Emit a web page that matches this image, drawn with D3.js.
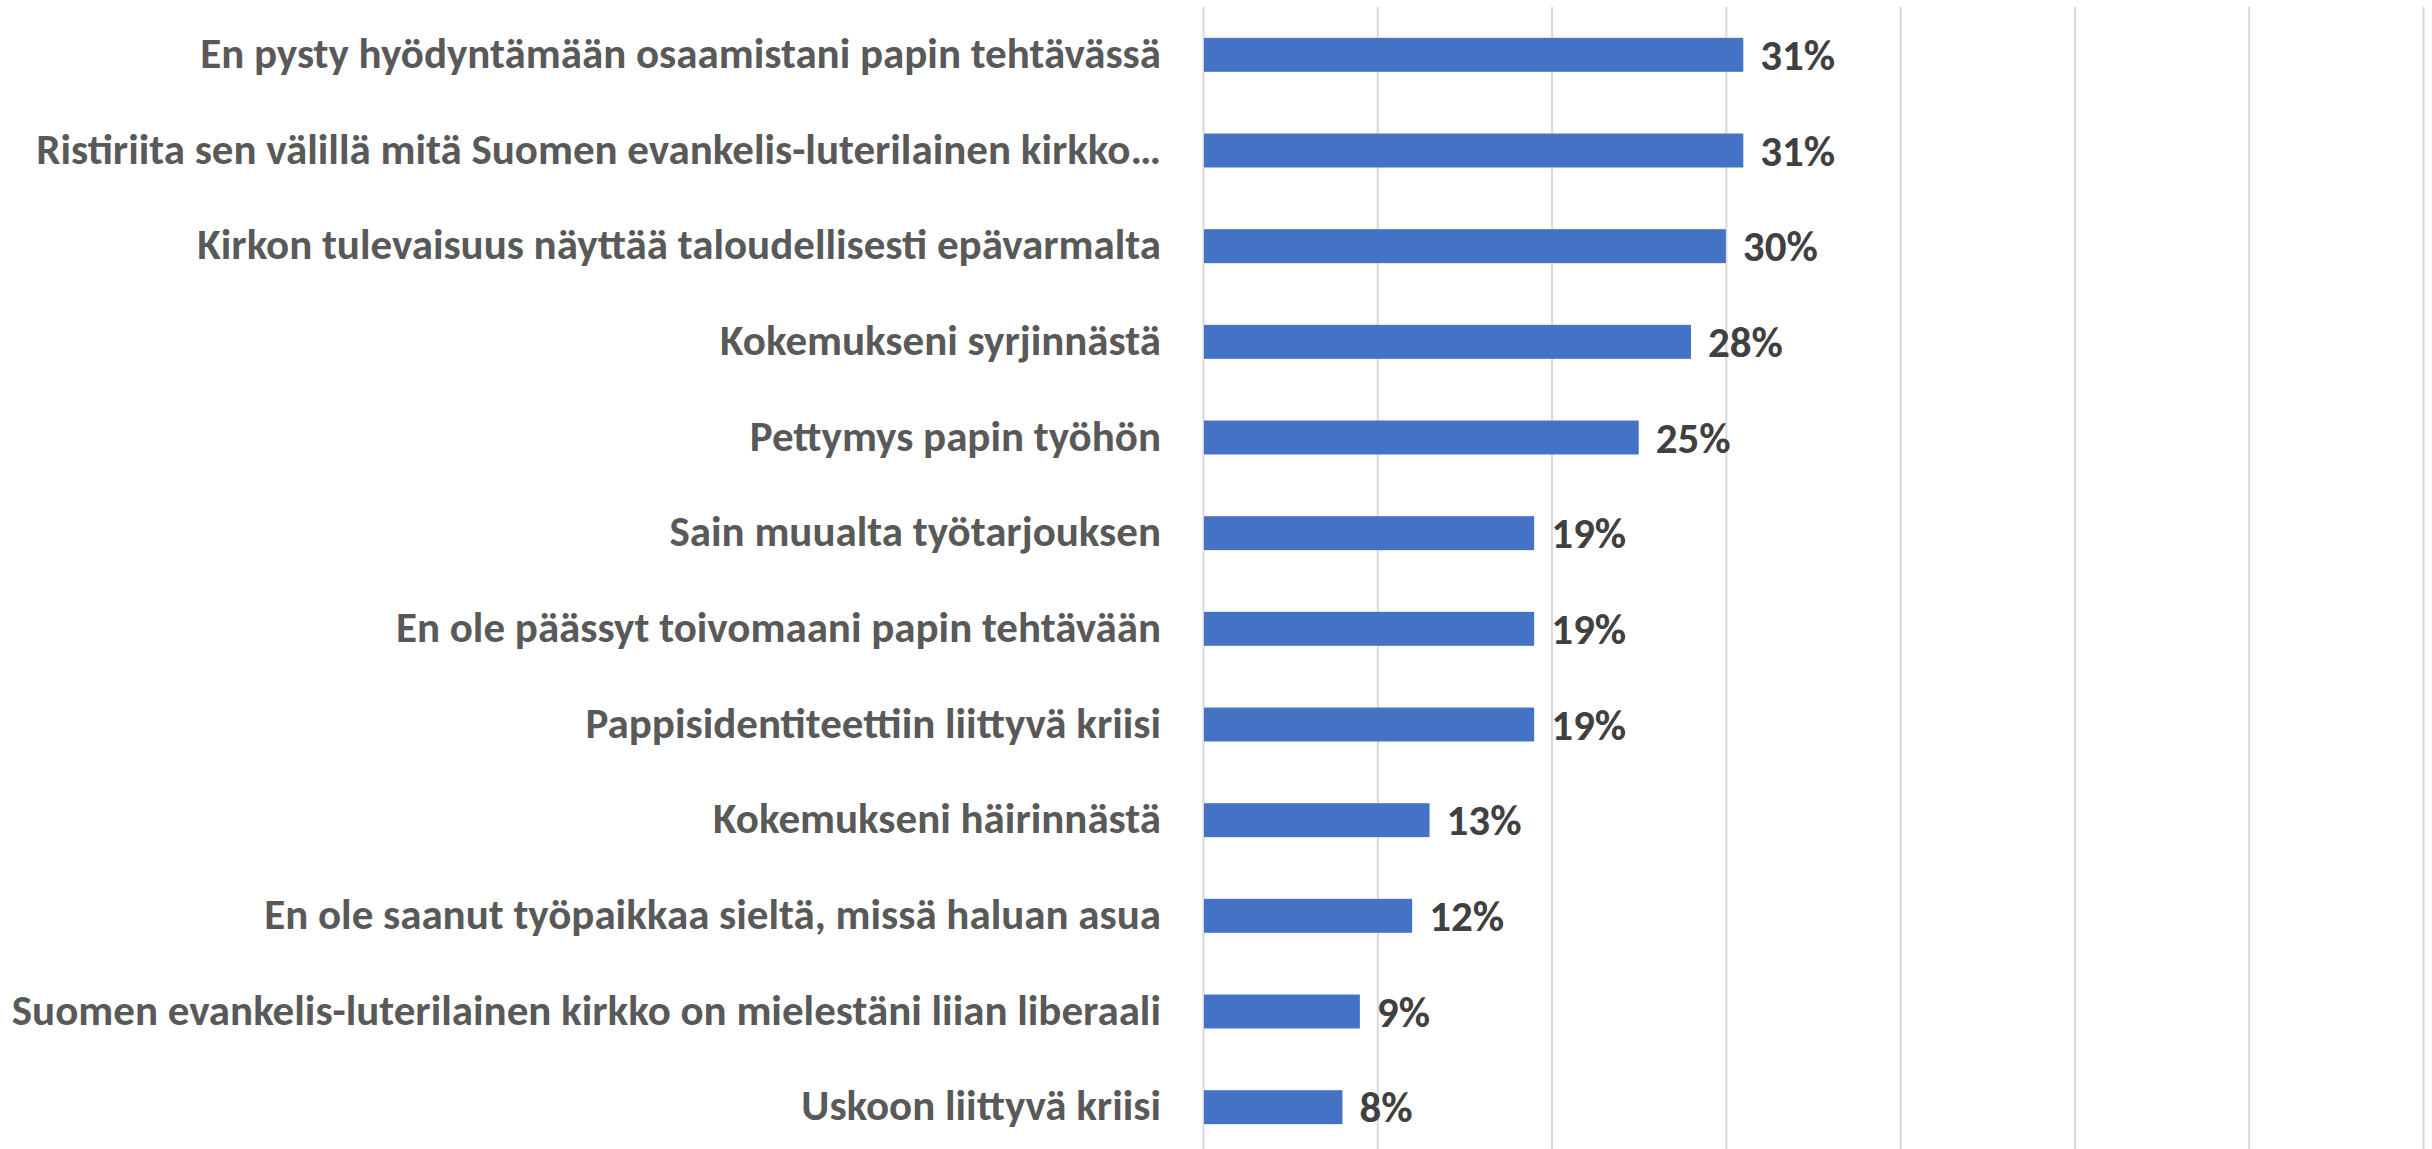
<!DOCTYPE html>
<html>
<head>
<meta charset="utf-8">
<script src="https://cdn.jsdelivr.net/npm/d3@7"></script>
<style>
  body { margin: 0; background: #fff; }
  svg { display: block; }
  .cat { font-family: "Liberation Sans Narrow", "Carlito", Lato, "Open Sans", sans-serif; font-weight: bold; }
</style>
</head>
<body>
<div id="chart"></div>
<script>
// categories top to bottom
var categories = [
  'En pysty hyödyntämään osaamistani papin tehtävässä',
  'Ristiriita sen välillä mitä Suomen evankelis-luterilainen kirkko…',
  'Kirkon tulevaisuus näyttää taloudellisesti epävarmalta',
  'Kokemukseni syrjinnästä',
  'Pettymys papin työhön',
  'Sain muualta työtarjouksen',
  'En ole päässyt toivomaani papin tehtävään',
  'Pappisidentiteettiin liittyvä kriisi',
  'Kokemukseni häirinnästä',
  'En ole saanut työpaikkaa sieltä, missä haluan asua',
  'Suomen evankelis-luterilainen kirkko on mielestäni liian liberaali',
  'Uskoon liittyvä kriisi'
];
var values = [31, 31, 30, 28, 25, 19, 19, 19, 13, 12, 9, 8];
var gridTicks = [0, 10, 20, 30, 40, 50, 60, 70];

var W = 2432, H = 1149;
var plot = { left: 1203, right: 2423, top: 7, bottom: 1155 };

var svg = d3.select('#chart').append('svg')
    .attr('width', W)
    .attr('height', H);

var xScale = d3.scaleLinear().domain([0, 70]).range([plot.left, plot.right]);
var yScale = d3.scaleBand()
    .domain(categories)
    .range([plot.top, plot.bottom])
    .paddingInner(0.645)
    .paddingOuter(0.3225);

// vertical gridlines
var grid = svg.append('g')
    .attr('transform', 'translate(0,' + H + ')')
    .call(d3.axisBottom(xScale).tickValues(gridTicks).tickSize(-(H - plot.top)).tickFormat(''));
grid.select('.domain').remove();
grid.selectAll('line').attr('stroke', '#d9d9d9').attr('stroke-width', 2);

// bars
svg.append('g').selectAll('rect')
    .data(values)
    .enter().append('rect')
    .attr('x', xScale(0) + 1)
    .attr('y', function (d, i) { return yScale(categories[i]); })
    .attr('width', function (d) { return xScale(d) - xScale(0) - 1; })
    .attr('height', yScale.bandwidth())
    .attr('fill', '#4472c4');

// value labels
svg.append('g').selectAll('text')
    .data(values)
    .enter().append('text')
    .attr('class', 'cat')
    .attr('x', function (d) { return xScale(d) + 17; })
    .attr('y', function (d, i) { return yScale(categories[i]) + yScale.bandwidth() / 2 + 15; })
    .attr('font-size', 43)
    .attr('fill', '#404040')
    .text(function (d) { return d + '%'; });

// category labels
svg.append('g').selectAll('text')
    .data(categories)
    .enter().append('text')
    .attr('class', 'cat')
    .attr('x', 1161)
    .attr('y', function (d) { return yScale(d) + yScale.bandwidth() / 2 + 13; })
    .attr('text-anchor', 'end')
    .attr('font-size', 43)
    .attr('fill', '#595959')
    .text(function (d) { return d; });
</script>
</body>
</html>
